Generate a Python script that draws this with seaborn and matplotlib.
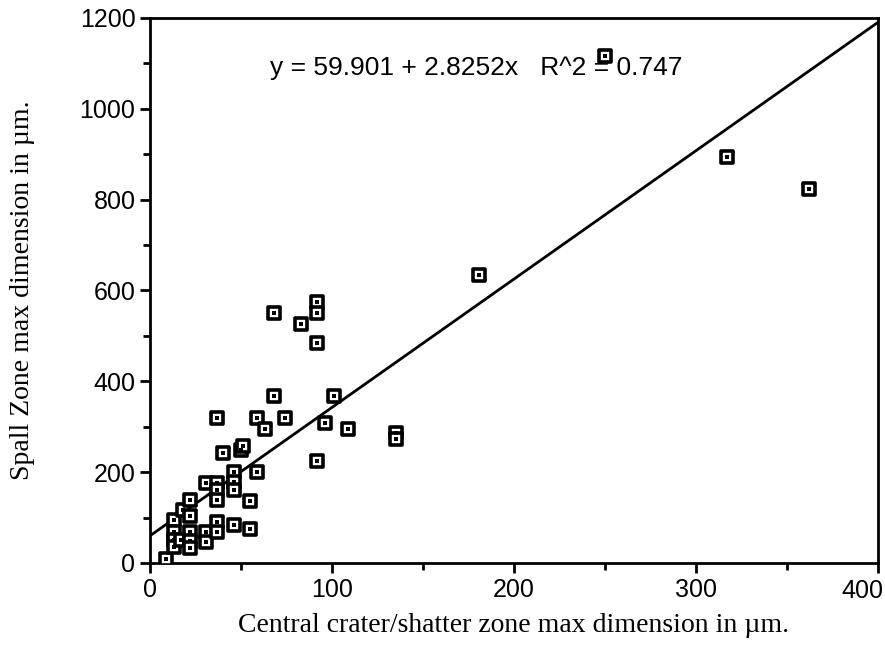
import numpy as np
import pandas as pd
import seaborn as sns
import matplotlib.pyplot as plt
from matplotlib.ticker import MultipleLocator

# central crater / shatter zone max dimension (um)
crater = [9, 13, 13, 13, 13, 18, 17, 22, 22, 22, 22, 22, 31, 31, 31,
          37, 37, 37, 37, 37, 37, 40, 46, 46, 46, 46, 50, 51, 55, 55,
          59, 59, 63, 68, 68, 74, 83, 92, 92, 92, 92, 96, 101, 109,
          135, 135, 181, 250, 317, 362]
# spall zone max dimension (um)
spall = [8, 95, 69, 50, 36, 117, 50, 139, 103, 69, 49, 32, 175, 69, 47,
         320, 175, 161, 139, 91, 69, 243, 201, 179, 161, 84, 249, 258, 137, 74,
         319, 201, 295, 550, 368, 319, 526, 575, 550, 485, 225, 308, 368, 295,
         287, 272, 633, 1115, 893, 823]

intercept = 59.901
slope = 2.8252
fit_x = [0, 400]
fit_y = [intercept + slope * v for v in fit_x]

x_ticks = [0, 100, 200, 300, 400]
x_labels = ['0', '100', '200', '300', '400']

df = pd.DataFrame({'crater': crater, 'spall': spall})

sns.set_style('ticks')
plt.rcParams['font.family'] = ['Liberation Sans', 'DejaVu Sans']
plt.rcParams['text.color'] = 'black'
plt.rcParams['axes.labelcolor'] = 'black'

fig = plt.figure(figsize=(8.85, 6.6), dpi=100)
ax = fig.add_axes([0.1695, 0.147, 0.8225, 0.826])

sns.lineplot(x=fit_x, y=fit_y, ax=ax, color='black', linewidth=2)
sns.scatterplot(x='crater', y='spall', data=df, ax=ax, marker='s', s=80,
                facecolor='white', edgecolor='black', linewidth=2.6, zorder=3)
sns.scatterplot(x='crater', y='spall', data=df, ax=ax, marker='s', s=6,
                color='black', linewidth=0, zorder=4)

ax.set_xlim(0, 400)
ax.set_ylim(0, 1200)
# last label would be clipped at the figure edge, so draw it right-aligned
ax.set_xticks(x_ticks, x_labels[:-1] + [''])
ax.text(1.007, -0.029, x_labels[-1], transform=ax.transAxes,
        ha='right', va='top', fontsize=18, color='black')
ax.xaxis.set_minor_locator(MultipleLocator(50))
ax.yaxis.set_major_locator(MultipleLocator(200))
ax.yaxis.set_minor_locator(MultipleLocator(100))
ax.tick_params(which='both', direction='out', width=2, colors='black', labelsize=18)
ax.tick_params(which='major', length=7)
ax.tick_params(which='minor', length=5)
for sp in ax.spines.values():
    sp.set_linewidth(2)
    sp.set_color('black')

ax.text(66, 1090, 'y = 59.901 + 2.8252x   R^2 = 0.747', fontsize=19,
        va='center', color='black')

ax.set_xlabel('Central crater/shatter zone max dimension in µm.',
              family='Liberation Serif', fontsize=20, labelpad=8)
ax.set_ylabel('Spall Zone max dimension in µm.',
              family='Liberation Serif', fontsize=20, labelpad=32)

fig.savefig('out.png', dpi=100)
